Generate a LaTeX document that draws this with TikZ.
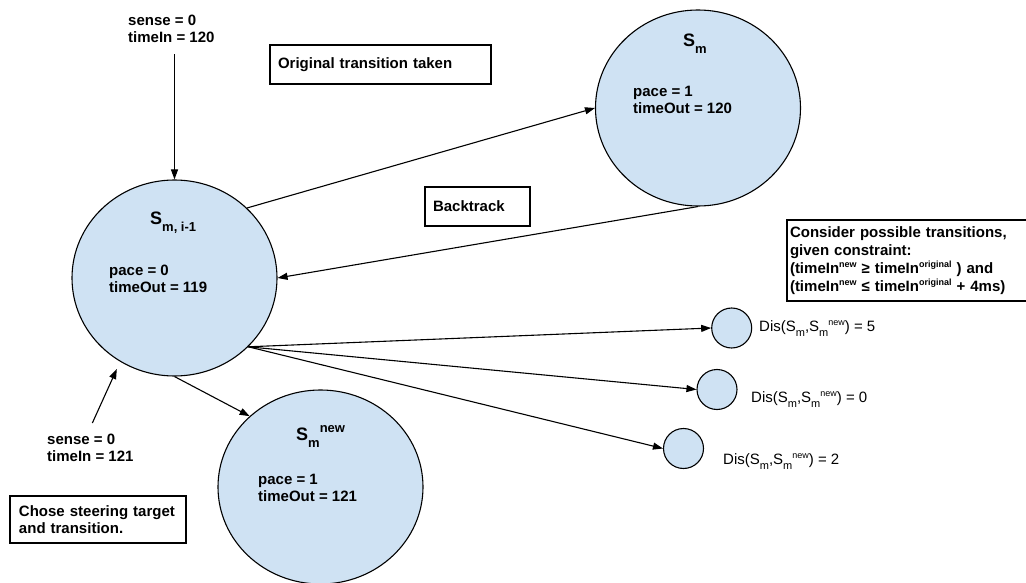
\documentclass[tikz,border=0pt]{standalone}
\usepackage{fontspec}
\setmainfont{Liberation Sans}
\usetikzlibrary{arrows.meta,positioning,shapes.geometric}

\definecolor{stfill}{HTML}{CFE2F3}

% sub- and superscripts as the drawing sets them
\newcommand{\ssub}[1]{\raisebox{-7pt}{\fontsize{13}{13}\selectfont #1}}
\newcommand{\ssup}[1]{\raisebox{8pt}{\fontsize{13}{13}\selectfont #1}}
\newcommand{\tsub}[1]{\raisebox{-5pt}{\fontsize{11}{11}\selectfont #1}}
\newcommand{\tsup}[1]{\raisebox{5.5pt}{\fontsize{9}{9}\selectfont #1}}

\tikzset{
  bigstate/.style={ellipse, draw, fill=stfill, line width=1.1pt,
    minimum width=205pt, minimum height=196pt, inner sep=0pt},
  smallstate/.style={circle, draw, fill=stfill, line width=1.1pt,
    minimum size=40pt, inner sep=0pt},
  notebox/.style={draw, line width=1.1pt, align=left, inner xsep=8pt,
    inner ysep=0pt, font=\bfseries\fontsize{15}{17}\selectfont},
  txt/.style={anchor=base west, align=left, inner sep=0pt,
    font=\bfseries\fontsize{15}{17}\selectfont},
  distxt/.style={anchor=base west, inner sep=0pt,
    font=\fontsize{15}{17}\selectfont},
  bigS/.style={anchor=base west, inner sep=0pt,
    font=\bfseries\fontsize{18}{18}\selectfont},
  arr/.style={-{Triangle[length=10pt,width=7pt]}, line width=1.1pt},
}

\begin{document}
\begin{tikzpicture}[x=1pt,y=-1pt]
\useasboundingbox (0,0) rectangle (1026,583);

% states
\node[bigstate] (smi) at (174.5,278) {};
\node[bigstate] (sm) at (698,108) {};
\node[bigstate, minimum height=194pt] (smnew) at (320.5,487) {};

\node[smallstate] (c1) at (731.7,328) {};
\node[smallstate] (c2) at (717,389.5) {};
\node[smallstate] (c3) at (683.5,448.5) {};

% labels inside the states (base = last line)
\node[bigS] (sminame) at (150,224) {S\ssub{m, i-1}};
\node[txt] (smival) at (109,292) {pace = 0\\timeOut = 119};
\node[bigS] (smname) at (683,47) {S\ssub{m}};
\node[txt] (smval) at (633,113.5) {pace = 1\\timeOut = 120};
\node[bigS] (smnewname) at (296,440) {S\ssub{m}\ssup{new}};
\node[txt] (smnewval) at (258,501.5) {pace = 1\\timeOut = 121};

% inputs
\node[txt] (sensea) at (128,42.3) {sense = 0\\timeIn = 120};
\node[txt] (senseb) at (47,461.7) {sense = 0\\timeIn = 121};

% notes
\node[notebox, minimum width=221pt, minimum height=39pt, text width=205pt]
  (orig) at (380.5,64.5) {Original transition taken};
\node[notebox, minimum width=105pt, minimum height=39pt, text width=89pt]
  (back) at (477.5,206.5) {Backtrack};
\node[notebox, inner xsep=3pt, minimum width=246pt, minimum height=81pt,
  text width=240pt, font=\bfseries\fontsize{15}{18}\selectfont]
  (cons) at (910,260.5) {Consider possible transitions,\\given constraint:\\
  (timeIn\tsup{new} ≥ timeIn\tsup{original} ) and\\
  (timeIn\tsup{new} ≤ timeIn\tsup{original} + 4ms)};
\node[notebox, inner xsep=9pt, minimum width=176pt, minimum height=47pt,
  text width=158pt] (chose) at (98,519.5) {Chose steering target\\and transition.};

% distances
\node[distxt] (d1) at (759,331) {Dis(S\tsub{m},S\tsub{m}\tsup{new}) = 5};
\node[distxt] (d2) at (751,402) {Dis(S\tsub{m},S\tsub{m}\tsup{new}) = 0};
\node[distxt] (d3) at (723,464) {Dis(S\tsub{m},S\tsub{m}\tsup{new}) = 2};

% transitions
\draw[arr] ([yshift=-11.5pt]sensea.south -| smi.north) -- (smi.north);
\draw[arr] (smi.44) -- (sm.west);
\draw[arr] (sm.south) -- (smi.east);
\draw[arr] (smi.-43) -- (c1.west);
\draw[arr] (smi.-43) -- (c2.west);
\draw[arr] (smi.-43) -- (c3.west);
\draw[arr] (smi.south) -- (smnew.135);
\draw[arr, shorten >=8pt] ([xshift=2pt,yshift=11pt]senseb.north) -- (smi.237);
\end{tikzpicture}
\end{document}
